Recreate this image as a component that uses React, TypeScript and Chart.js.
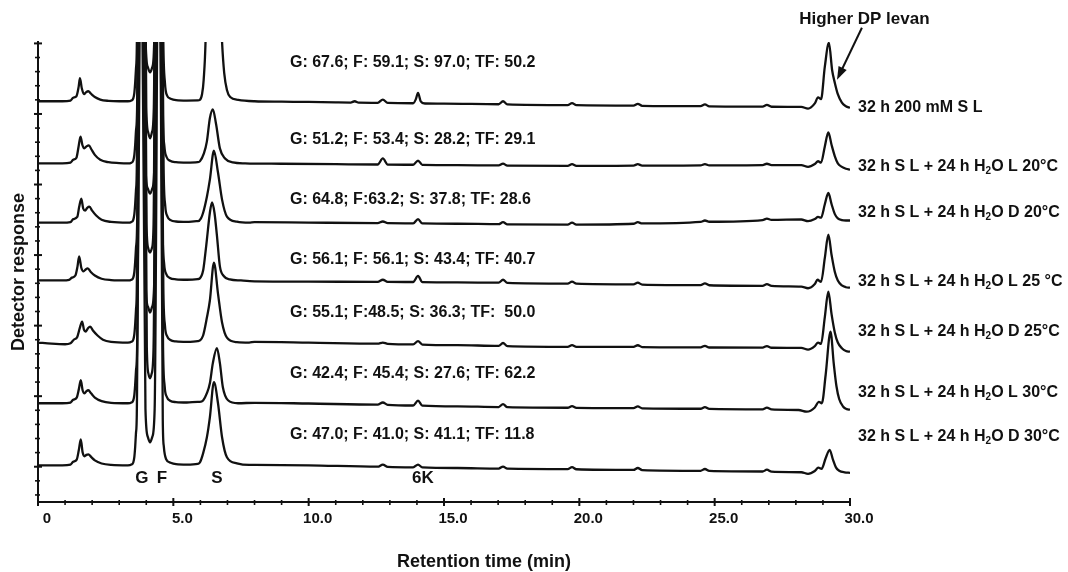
import React, { useEffect, useRef } from 'react';
import { Chart, registerables } from 'chart.js';

Chart.register(...registerables);

type Pt = [number, number];

// Retention time axis (min)
const X_MIN = 0;
const X_MAX = 30;
const X_MINOR_STEP = 1;
const X_MAJOR_STEP = 5;
// Detector response axis (arbitrary units)
const Y_MIN = -25;
const Y_MAX = 301;
const Y_MINOR_STEP = 10;
const Y_MAJOR_STEP = 50;

const SAMPLE_NAMES = [
  '32 h 200 mM S L',
  '32 h S L + 24 h H₂O L 20°C',
  '32 h S L + 24 h H₂O D 20°C',
  '32 h S L + 24 h H₂O L 25 °C',
  '32 h S L + 24 h H₂O D 25°C',
  '32 h S L + 24 h H₂O L 30°C',
  '32 h S L + 24 h H₂O D 30°C',
];

const YIELD_NOTES = [
  'G: 67.6; F: 59.1; S: 97.0; TF: 50.2',
  'G: 51.2; F: 53.4; S: 28.2; TF: 29.1',
  'G: 64.8; F:63.2; S: 37.8; TF: 28.6',
  'G: 56.1; F: 56.1; S: 43.4; TF: 40.7',
  'G: 55.1; F:48.5; S: 36.3; TF:  50.0',
  'G: 42.4; F: 45.4; S: 27.6; TF: 62.2',
  'G: 47.0; F: 41.0; S: 41.1; TF: 11.8',
];

// vertical stacking offset of each chromatogram (detector units)
const TRACE_OFFSETS = [259, 215, 173, 132, 88, 45, 1];

const NOTE_TIME = 9.31;
const NOTE_LEVELS = [286.3, 231.7, 189.2, 146.7, 109.1, 65.9, 22.7];
const NAME_LEVELS = [254.4, 212.6, 180.0, 131.1, 95.7, 52.4, 21.3];

const PEAK_NAMES = ['G', 'F', 'S', '6K'];
const PEAK_TIMES = [3.84, 4.58, 6.61, 14.22];
const PEAK_LEVEL = -8.3;

const LEVAN_TEXT = 'Higher DP levan';
const LEVAN_TEXT_POS: Pt = [30.53, 316.8];
const LEVAN_ARROW_FROM: Pt = [30.44, 311.1];
const LEVAN_ARROW_TO: Pt = [29.52, 274.3];

const X_TITLE = 'Retention time (min)';
const X_TITLE_TIME = 16.48;
const Y_TITLE = 'Detector response';

// Chromatograms: [retention time (min), response relative to own baseline]
const SL_200MM: Pt[] = [
  [0, 0], [0.9, 0], [1.2, 0.5], [1.3, 2.5], [1.42, 3.5], [1.5, 10], [1.55, 16.3], [1.62, 9], [1.7, 5],
  [1.78, 6.5], [1.86, 7.1], [1.95, 5.5], [2.1, 3], [2.3, 1.2], [2.6, 0.3], [3.0, 0], [3.32, 0],
  [3.45, 0.5], [3.52, 2], [3.56, 6], [3.59, 13], [3.62, 23], [3.65, 38], [3.8, 430], [3.98, 40],
  [4.06, 24], [4.14, 20.5], [4.22, 24], [4.29, 40], [4.44, 430], [4.63, 42], [4.69, 13], [4.77, 4],
  [4.9, 1.8], [5.1, 0.8], [5.5, 0.5], [5.9, 0.6], [5.98, 1], [6.06, 5], [6.12, 15], [6.2, 50],
  [6.3, 180], [6.45, 330], [6.6, 180], [6.72, 80], [6.8, 42], [6.88, 20], [6.98, 8], [7.1, 3],
  [7.4, 1], [8, 0], [9, -0.3], [10, -0.5], [11, -0.8], [11.55, -0.9], [11.7, 0], [11.85, -1],
  [12.55, -1.1], [12.74, 1.2], [12.92, -1.2], [13.86, -1.4], [13.96, 1.5], [14.04, 6], [14.14, 0],
  [14.3, -1.6], [15, -1.7], [17.02, -2.1], [17.18, 0], [17.34, -2.2], [19.57, -2.7], [19.73, -1.3],
  [19.89, -2.8], [22, -3.1], [22.16, -1.8], [22.32, -3.2], [24.48, -3.5], [24.64, -2.2], [24.8, -3.6],
  [26.77, -3.8], [26.93, -2.5], [27.1, -3.9], [28.2, -4], [28.45, -5.2], [28.7, -1.5], [28.82, 2.8],
  [28.93, 1.5], [29.07, 24.5], [29.22, 41.5], [29.34, 22], [29.44, 13], [29.55, 5], [29.7, -1],
  [29.85, -3.5], [30, -4.6],
];

const L20: Pt[] = [
  [0, 0], [0.9, 0], [1.2, 0.5], [1.3, 2.5], [1.42, 4], [1.5, 12], [1.57, 19], [1.64, 13], [1.71, 10.6],
  [1.79, 12], [1.88, 12.8], [1.97, 10], [2.1, 6], [2.3, 2.5], [2.6, 0.8], [3.0, 0.2], [3.32, 0],
  [3.45, 0.5], [3.52, 2], [3.56, 6], [3.59, 13], [3.62, 23], [3.66, 38], [3.84, 470], [4.0, 40],
  [4.07, 22], [4.14, 17.7], [4.21, 22], [4.28, 40], [4.42, 470], [4.61, 38], [4.67, 12], [4.75, 4.5],
  [4.88, 1.8], [5.1, 0.8], [5.5, 0.5], [5.9, 0.8], [5.98, 1.4], [6.13, 7], [6.24, 15.6], [6.35, 32],
  [6.46, 38.3], [6.58, 27.7], [6.72, 10.6], [6.91, 3.5], [7.2, 0.7], [7.65, 0], [9, -0.3], [11, -0.6],
  [12.55, -0.8], [12.74, 3.5], [12.92, -0.9], [13.86, -1], [14.04, 2], [14.2, -1.1], [15.5, -1.3],
  [17.02, -1.5], [17.18, -0.2], [17.34, -1.6], [19.57, -1.8], [19.73, -0.6], [19.89, -1.8], [22, -1.6],
  [22.16, -0.6], [22.32, -1.6], [24.48, -1.4], [24.64, -0.5], [24.8, -1.4], [26.77, -1.2], [26.93, -0.3],
  [27.1, -1.2], [28.2, -1.2], [28.45, -2.5], [28.7, -0.5], [28.82, 1.5], [28.93, 0.5], [29.07, 12],
  [29.2, 22], [29.32, 13], [29.44, 5], [29.55, 0], [29.7, -2.5], [29.85, -3.8], [30, -4.5],
];

const D20: Pt[] = [
  [0, 0], [0.9, 0], [1.2, 0.4], [1.3, 2.5], [1.45, 4], [1.52, 11], [1.6, 17], [1.67, 10], [1.74, 8.5],
  [1.82, 10.5], [1.9, 11.3], [2.0, 8.5], [2.15, 5], [2.35, 2], [2.7, 0.5], [3.32, 0],
  [3.45, 0.5], [3.52, 2], [3.56, 6], [3.59, 13], [3.62, 23], [3.65, 38], [3.78, 440], [3.97, 40],
  [4.06, 24], [4.14, 20.5], [4.22, 24], [4.3, 40], [4.46, 440], [4.64, 40], [4.7, 12], [4.78, 4.5],
  [4.9, 1.8], [5.1, 0.8], [5.5, 0.5], [5.85, 1], [5.91, 1], [6.02, 3], [6.1, 7], [6.24, 18.4],
  [6.35, 30.5], [6.5, 51], [6.65, 35.5], [6.8, 16.3], [6.98, 4.3], [7.35, 0.7], [7.8, 0], [8, 0.3],
  [10, 0], [12.55, -0.3], [12.74, 0.8], [12.92, -0.4], [13.86, -0.5], [14.04, 2.5], [14.2, -0.6],
  [15.5, -0.8], [17.02, -1.1], [17.18, 0.3], [17.34, -1.2], [19.57, -1.4], [19.73, 0], [19.89, -1.4],
  [22, -0.8], [22.16, 0.3], [22.32, -0.6], [24.48, 0.5], [24.64, 1.5], [24.8, 0.6], [26.77, 1.8],
  [26.93, 2.8], [27.1, 1.9], [28.2, 2.2], [28.45, 1], [28.7, 2.5], [28.82, 4], [28.93, 3.5], [29.07, 13],
  [29.2, 21], [29.32, 13], [29.44, 6], [29.55, 3], [29.7, 1.8], [29.85, 1.5], [30, 1.5],
];

const L25: Pt[] = [
  [0, 0], [0.9, 0], [1.15, 0.4], [1.25, 2], [1.38, 3.5], [1.46, 10], [1.52, 17], [1.6, 9], [1.68, 6.4],
  [1.76, 7.8], [1.84, 8.5], [1.95, 6], [2.1, 3.5], [2.35, 1.2], [2.7, 0.3], [3.32, 0],
  [3.45, 0.5], [3.52, 2], [3.56, 6], [3.59, 13], [3.62, 23], [3.66, 38], [3.86, 480], [4.01, 40],
  [4.07, 23], [4.14, 19.8], [4.21, 23], [4.27, 40], [4.4, 480], [4.6, 38], [4.66, 12], [4.74, 4.5],
  [4.87, 1.8], [5.1, 0.8], [5.5, 0.5], [5.9, 1], [5.98, 1.5], [6.1, 7], [6.17, 17], [6.24, 29],
  [6.35, 48], [6.43, 55.3], [6.52, 48], [6.61, 32], [6.72, 10], [6.87, 3], [7.09, 0.8], [7.5, 0],
  [8, -0.6], [10, -0.8], [12.55, -1], [12.74, 0.5], [12.92, -1], [13.86, -1.1], [14.04, 3.2],
  [14.2, -1.2], [15.5, -1.4], [17.02, -1.6], [17.18, 0.5], [17.34, -1.7], [19.57, -2.2], [19.73, -0.8],
  [19.89, -2.3], [22, -2.8], [22.16, -1.6], [22.32, -2.9], [24.48, -3.3], [24.64, -2.1], [24.8, -3.4],
  [26.77, -3.8], [26.93, -2.6], [27.1, -3.9], [28.2, -4.4], [28.45, -5.5], [28.7, -2.5], [28.8, 0.5],
  [28.93, -1], [29.07, 16], [29.2, 32.4], [29.32, 18], [29.44, 6], [29.55, 0], [29.7, -3.5],
  [29.85, -4.8], [30, -5.1],
];

const D25: Pt[] = [
  [0, 0], [0.5, -0.8], [1.0, -1.2], [1.2, -0.5], [1.32, 2], [1.45, 4], [1.54, 10], [1.63, 14.9],
  [1.7, 9], [1.76, 7.8], [1.84, 10], [1.93, 11.3], [2.03, 8.5], [2.2, 5], [2.4, 2], [2.7, 0.5], [3.32, 0],
  [3.45, 0.5], [3.52, 2], [3.56, 6], [3.59, 13], [3.62, 23], [3.65, 38], [3.82, 450], [3.98, 40],
  [4.07, 25], [4.14, 21.3], [4.21, 25], [4.29, 40], [4.45, 450], [4.63, 40], [4.69, 12], [4.77, 4.5],
  [4.89, 1.8], [5.1, 0.8], [5.5, 0.5], [5.9, 1], [5.98, 1.5], [6.1, 5], [6.24, 17.7], [6.35, 29.8],
  [6.5, 56.7], [6.65, 34.7], [6.8, 14.2], [6.98, 3.5], [7.35, 0.3], [7.8, 0], [8, 0.5], [10, 0],
  [12.55, -0.8], [12.74, 0], [12.92, -0.9], [13.86, -1.3], [14.04, 1], [14.2, -1.4], [15.5, -1.8],
  [17.02, -2.4], [17.18, -0.3], [17.34, -2.5], [19.57, -3], [19.73, -1.8], [19.89, -3], [22, -3.1],
  [22.16, -1.9], [22.32, -3.2], [24.48, -3.4], [24.64, -2.3], [24.8, -3.5], [26.77, -3.6], [26.93, -2.5],
  [27.1, -3.7], [28.2, -3.8], [28.45, -5], [28.7, -2.5], [28.82, 0], [28.93, -1], [29.07, 18],
  [29.2, 36], [29.32, 20], [29.44, 7], [29.55, 0], [29.7, -4], [29.85, -6], [30, -6.5],
];

const L30: Pt[] = [
  [0, 0], [0.9, 0], [1.2, 0.5], [1.3, 2.5], [1.43, 4], [1.51, 10], [1.58, 16.3], [1.65, 9], [1.72, 7],
  [1.79, 8.5], [1.86, 9.2], [1.96, 7], [2.1, 4], [2.35, 1.5], [2.7, 0.3], [3.32, 0],
  [3.45, 0.5], [3.52, 2], [3.56, 6], [3.59, 13], [3.62, 23], [3.66, 38], [3.87, 490], [4.02, 40],
  [4.08, 21], [4.14, 17.7], [4.2, 21], [4.27, 40], [4.43, 490], [4.62, 40], [4.68, 12], [4.76, 4.5],
  [4.88, 1.8], [5.1, 0.8], [5.5, 0.5], [5.9, 1], [5.98, 1], [6.1, 2], [6.24, 7.1], [6.35, 14.2],
  [6.46, 28.4], [6.61, 39], [6.72, 28.4], [6.83, 11.3], [7.02, 2.1], [7.39, 0], [8, 0.3], [10, -0.2],
  [12.55, -1], [12.74, 0.5], [12.92, -1.1], [13.86, -1.6], [14.04, 1.8], [14.2, -1.7], [15.5, -2.2],
  [17.02, -2.7], [17.18, -0.6], [17.34, -2.8], [19.57, -3.2], [19.73, -2], [19.89, -3.3], [22, -3.5],
  [22.16, -2.3], [22.32, -3.6], [24.48, -3.9], [24.64, -2.7], [24.8, -4], [26.77, -4.3], [26.93, -3.1],
  [27.1, -4.4], [28.1, -4.8], [28.4, -6], [28.7, -3], [28.85, 1], [28.96, 0], [29.1, 20], [29.28, 50.7],
  [29.4, 28], [29.5, 12], [29.6, 3], [29.75, -2.5], [29.88, -4.2], [30, -4.6],
];

const D30: Pt[] = [
  [0, 0], [0.9, 0], [1.2, 0.5], [1.3, 2.5], [1.43, 4], [1.51, 11], [1.58, 18.4], [1.65, 9], [1.72, 6.4],
  [1.79, 7.4], [1.86, 7.8], [1.96, 6], [2.1, 3.5], [2.35, 1.3], [2.7, 0.3], [3.32, 0],
  [3.45, 0.5], [3.52, 2], [3.56, 6], [3.59, 13], [3.62, 23], [3.65, 36], [3.79, 460], [3.97, 40],
  [4.06, 20], [4.14, 16.3], [4.22, 20], [4.31, 40], [4.47, 460], [4.61, 32], [4.65, 13], [4.73, 4.5],
  [4.9, 1.8], [5.1, 0.8], [5.5, 0.5], [5.9, 1], [5.98, 2], [6.1, 8.5], [6.24, 19.9], [6.35, 34],
  [6.5, 58.9], [6.65, 44], [6.8, 19.9], [6.98, 5.7], [7.35, 1.4], [7.8, 0.3], [8, 0.3], [10, 0],
  [12.55, -1], [12.74, 0.5], [12.92, -1.1], [13.86, -1.4], [14.04, 0.5], [14.2, -1.5], [15.5, -1.9],
  [17.02, -2.3], [17.18, -0.9], [17.34, -2.4], [19.57, -2.7], [19.73, -1.3], [19.89, -2.8], [22, -3.3],
  [22.16, -1.9], [22.32, -3.4], [24.48, -3.9], [24.64, -2.6], [24.8, -4], [26.77, -4.4], [26.93, -3.1],
  [27.1, -4.5], [28.2, -4.9], [28.45, -6], [28.7, -4], [28.83, -1.7], [28.95, -2.5], [29.1, 5],
  [29.25, 11], [29.37, 4], [29.48, -1.5], [29.6, -3.8], [29.8, -5], [30, -5.3],
];

const TRACES: Pt[][] = [SL_200MM, L20, D20, L25, D25, L30, D30];

const FONT = '"Liberation Sans", Arial, Helvetica, sans-serif';
const INK = '#111111';

function drawRich(ctx: CanvasRenderingContext2D, text: string, x: number, y: number, size: number) {
  const parts = text.split('₂');
  let cx = x;
  parts.forEach((p, i) => {
    ctx.font = `bold ${size}px ${FONT}`;
    ctx.fillText(p, cx, y);
    cx += ctx.measureText(p).width;
    if (i < parts.length - 1) {
      ctx.font = `bold ${Math.round(size * 0.62)}px ${FONT}`;
      ctx.fillText('2', cx, y + size * 0.3);
      cx += ctx.measureText('2').width;
    }
  });
}

const crossTicks = {
  id: 'crossTicks',
  afterDraw(chart: any) {
    const { ctx, chartArea, scales } = chart;
    const xs = scales.x;
    const ys = scales.y;
    ctx.save();
    ctx.strokeStyle = INK;
    xs.ticks.forEach((t: any) => {
      const px = xs.getPixelForValue(t.value);
      const major = Math.abs(t.value % X_MAJOR_STEP) < 1e-6;
      ctx.lineWidth = major ? 2 : 1.6;
      ctx.beginPath();
      ctx.moveTo(px, chartArea.bottom - (major ? 4 : 2));
      ctx.lineTo(px, chartArea.bottom + (major ? 4 : 3));
      ctx.stroke();
    });
    ys.ticks.forEach((t: any) => {
      const py = ys.getPixelForValue(t.value);
      const major = Math.abs(t.value % Y_MAJOR_STEP) < 1e-6;
      ctx.lineWidth = major ? 2 : 1.6;
      ctx.beginPath();
      ctx.moveTo(chartArea.left - (major ? 4 : 3), py);
      ctx.lineTo(chartArea.left + (major ? 4 : 2), py);
      ctx.stroke();
    });
    ctx.restore();
  },
};

const annotations = {
  id: 'annotations',
  afterDatasetsDraw(chart: any) {
    const { ctx, chartArea, scales } = chart;
    const xs = scales.x;
    const ys = scales.y;
    ctx.save();
    ctx.fillStyle = INK;
    ctx.strokeStyle = INK;
    ctx.textBaseline = 'middle';

    // composition notes
    ctx.textAlign = 'left';
    ctx.font = `bold 16px ${FONT}`;
    YIELD_NOTES.forEach((t, i) => {
      ctx.fillText(t, xs.getPixelForValue(NOTE_TIME), ys.getPixelForValue(NOTE_LEVELS[i]));
    });

    // sample names on the right
    SAMPLE_NAMES.forEach((t, i) => {
      drawRich(ctx, t, chartArea.right + 8, ys.getPixelForValue(NAME_LEVELS[i]), 16);
    });

    // peak identities
    ctx.textAlign = 'center';
    ctx.font = `bold 17px ${FONT}`;
    PEAK_NAMES.forEach((t, i) => {
      ctx.fillText(t, xs.getPixelForValue(PEAK_TIMES[i]), ys.getPixelForValue(PEAK_LEVEL));
    });

    // levan annotation + arrow
    ctx.font = `bold 17px ${FONT}`;
    ctx.fillText(LEVAN_TEXT, xs.getPixelForValue(LEVAN_TEXT_POS[0]), ys.getPixelForValue(LEVAN_TEXT_POS[1]));
    const ax0 = xs.getPixelForValue(LEVAN_ARROW_FROM[0]);
    const ay0 = ys.getPixelForValue(LEVAN_ARROW_FROM[1]);
    const ax1 = xs.getPixelForValue(LEVAN_ARROW_TO[0]);
    const ay1 = ys.getPixelForValue(LEVAN_ARROW_TO[1]);
    const ang = Math.atan2(ay1 - ay0, ax1 - ax0);
    ctx.lineWidth = 2;
    ctx.beginPath();
    ctx.moveTo(ax0, ay0);
    ctx.lineTo(ax1 - 8 * Math.cos(ang), ay1 - 8 * Math.sin(ang));
    ctx.stroke();
    ctx.beginPath();
    ctx.moveTo(ax1, ay1);
    ctx.lineTo(ax1 - 13 * Math.cos(ang) + 4.5 * Math.sin(ang), ay1 - 13 * Math.sin(ang) - 4.5 * Math.cos(ang));
    ctx.lineTo(ax1 - 13 * Math.cos(ang) - 4.5 * Math.sin(ang), ay1 - 13 * Math.sin(ang) + 4.5 * Math.cos(ang));
    ctx.closePath();
    ctx.fill();

    // x-axis title
    ctx.font = `bold 18px ${FONT}`;
    ctx.fillText(X_TITLE, xs.getPixelForValue(X_TITLE_TIME), chartArea.bottom + 60);
    ctx.restore();
  },
};

export default function App() {
  const ref = useRef<HTMLCanvasElement>(null);
  useEffect(() => {
    if (!ref.current) return;
    const chart = new Chart(ref.current, {
      type: 'line',
      data: {
        datasets: TRACES.map((tr, i) => ({
          label: SAMPLE_NAMES[i],
          data: tr.map(([t, v]) => ({ x: t, y: v + TRACE_OFFSETS[i] })),
          borderColor: INK,
          borderWidth: 2.3,
          pointRadius: 0,
          fill: false,
          cubicInterpolationMode: 'monotone' as const,
        })),
      },
      options: {
        animation: false,
        responsive: true,
        maintainAspectRatio: false,
        devicePixelRatio: 1,
        layout: { padding: { top: 42, right: 218, bottom: 0, left: 0 } },
        plugins: {
          legend: { display: false },
          tooltip: { enabled: false },
          title: { display: false },
        },
        scales: {
          x: {
            type: 'linear',
            min: X_MIN,
            max: X_MAX,
            grid: { display: false, drawTicks: false },
            border: { display: true, color: INK, width: 2 },
            ticks: {
              stepSize: X_MINOR_STEP,
              autoSkip: false,
              maxRotation: 0,
              padding: 8,
              labelOffset: 9,
              color: INK,
              font: { family: FONT, size: 15, weight: 'bold' },
              callback: (v: any) => {
                const n = Number(v);
                if (Math.abs(n % X_MAJOR_STEP) > 1e-6) return '';
                return n === 0 ? '0' : n.toFixed(1);
              },
            },
            afterFit: (s: any) => {
              s.height = 70;
            },
          },
          y: {
            type: 'linear',
            min: Y_MIN,
            max: Y_MAX,
            grid: { display: false, drawTicks: false },
            border: { display: true, color: INK, width: 2 },
            ticks: { display: false, stepSize: Y_MINOR_STEP, includeBounds: false },
            title: {
              display: true,
              text: Y_TITLE,
              color: INK,
              font: { family: FONT, size: 18, weight: 'bold' },
              padding: { top: 8, bottom: 0 },
            },
            afterFit: (s: any) => {
              s.width = 38;
            },
          },
        },
      } as any,
      plugins: [crossTicks, annotations],
    });
    return () => chart.destroy();
  }, []);
  return (
    <div style={{ position: 'fixed', left: 0, top: 0, width: 1068, height: 572, background: '#fff' }}>
      <canvas ref={ref} style={{ display: 'block' }} />
    </div>
  );
}
